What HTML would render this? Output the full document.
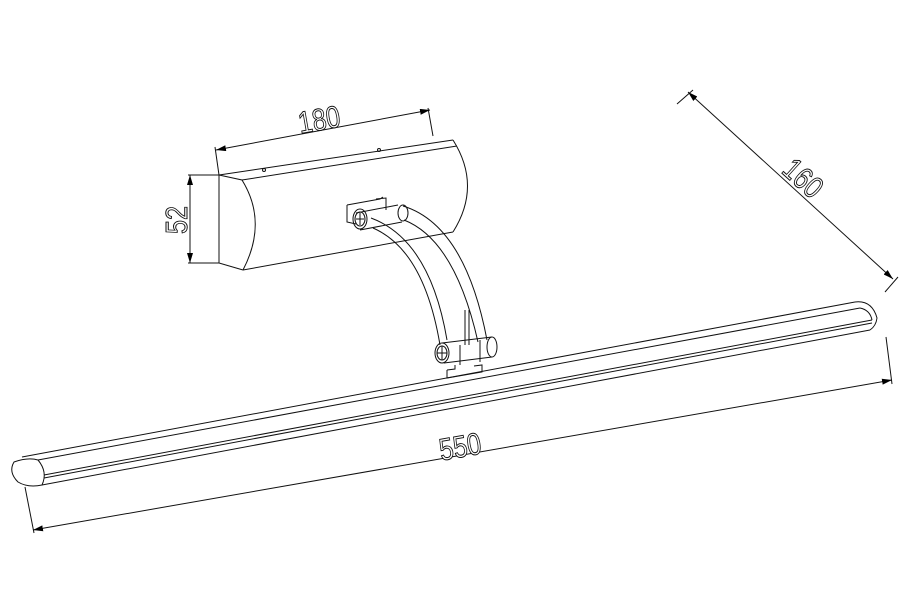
<!DOCTYPE html>
<html><head><style>html,body{margin:0;padding:0;background:#fff;}svg{display:block}</style></head>
<body>
<svg width="900" height="600" viewBox="0 0 900 600" xmlns="http://www.w3.org/2000/svg">
<defs>
<marker id="a" viewBox="0 0 10 6" refX="10" refY="3" markerWidth="10" markerHeight="6" orient="auto-start-reverse" markerUnits="userSpaceOnUse">
<path d="M0,0 L10,3 L0,6 z" fill="#000"/></marker>
</defs>
<g fill="none" stroke="#111" stroke-width="1">
<!-- wall box -->
<path d="M219,175 L219,263 L243,270"/>
<path d="M219,175 L242,180 Q268,222 243,270"/>
<path d="M219,175 L453,140"/>
<path d="M242,180 L457,146"/>
<path d="M453,140 Q482,186 453,232"/>
<path d="M243,270 L453,232"/>
<circle cx="264" cy="170" r="1.5"/><circle cx="379" cy="150" r="1.5"/>
<!-- top bracket -->
<path d="M347,205 L347,222 L356,224 M347,205 L380,199 L383,197 M376,199 L386,198 L386,210"/>
<path d="M356,213 L398,205 M360,230 L402,222"/>
<ellipse cx="360" cy="219" rx="7" ry="10"/><ellipse cx="360" cy="219" rx="5" ry="7"/>
<path d="M356,219 L364,219 M360,213 L360,225"/>
<ellipse cx="403" cy="213" rx="5" ry="8"/>
<!-- tubes -->
<path d="M371,218 Q430,240 447,340"/>
<path d="M373,228 Q424,250 440,345"/>
<path d="M403,206 Q465,225 487,340"/>
<path d="M404,220 Q455,240 478,342"/>
<path d="M465,310 L465,345 M469,310 L469,345"/>
<!-- lower connector -->
<ellipse cx="442" cy="353" rx="7" ry="10"/><ellipse cx="442" cy="353" rx="5" ry="7"/>
<path d="M437,353 L447,353 M442,346 L442,360"/>
<path d="M442,343 L492,337 M444,363 L492,357"/>
<ellipse cx="492" cy="347" rx="5" ry="10"/>
<path d="M460,345 L460,365 M480,340 L480,362"/>
<path d="M447,370 L447,378 L482,372 L482,365 L474,366 M447,370 L455,369 L455,365"/>
<!-- bar -->
<path d="M22,457 L855,302"/>
<path d="M14,462 Q8,472 18,482 Q28,488 42,485 Q48,472 38,460 Q28,457 14,462 z"/>
<path d="M38,460 L860,308"/>
<path d="M42,485 L870,330"/>
<path d="M44,478 L872,323"/>
<path d="M44,475 L872,320"/>
<path d="M855,302 Q872,300 877,318 Q876,326 870,330"/>
<path d="M860,308 Q870,310 872,320"/>
<!-- dimension 550 -->
<path d="M25,487 L34,533 M886,337 L892,384"/>
<path d="M33,530 L892,380" marker-start="url(#a)" marker-end="url(#a)"/>
<!-- dimension 180 -->
<path d="M215,147 L219,175 M428,108 L433,136"/>
<path d="M216,150 L430,110" marker-start="url(#a)" marker-end="url(#a)"/>
<!-- dimension 52 -->
<path d="M188,175 L219,175 M188,263 L219,263"/>
<path d="M190,175 L190,263" marker-start="url(#a)" marker-end="url(#a)"/>
<!-- dimension 160 -->
<path d="M677,104 L693,90 M885,292 L898,277"/>
<path d="M688,92 L893,279" marker-start="url(#a)" marker-end="url(#a)"/>
</g>
<g font-family="Liberation Sans, sans-serif" font-size="28" fill="#fff" stroke="#111" stroke-width="0.9">
<text x="0" y="0" text-anchor="middle" transform="translate(321,130) rotate(-10) scale(0.9,1.1)">180</text>
<text x="0" y="0" text-anchor="middle" transform="translate(187,220) rotate(-90) scale(0.9,1.1)">52</text>
<text x="0" y="0" text-anchor="middle" transform="translate(462,457) rotate(-10) scale(0.9,1.1)">550</text>
<text x="0" y="0" text-anchor="middle" transform="translate(796,186) rotate(42) scale(0.9,1.1)">160</text>
</g>
</svg>
</body></html>
